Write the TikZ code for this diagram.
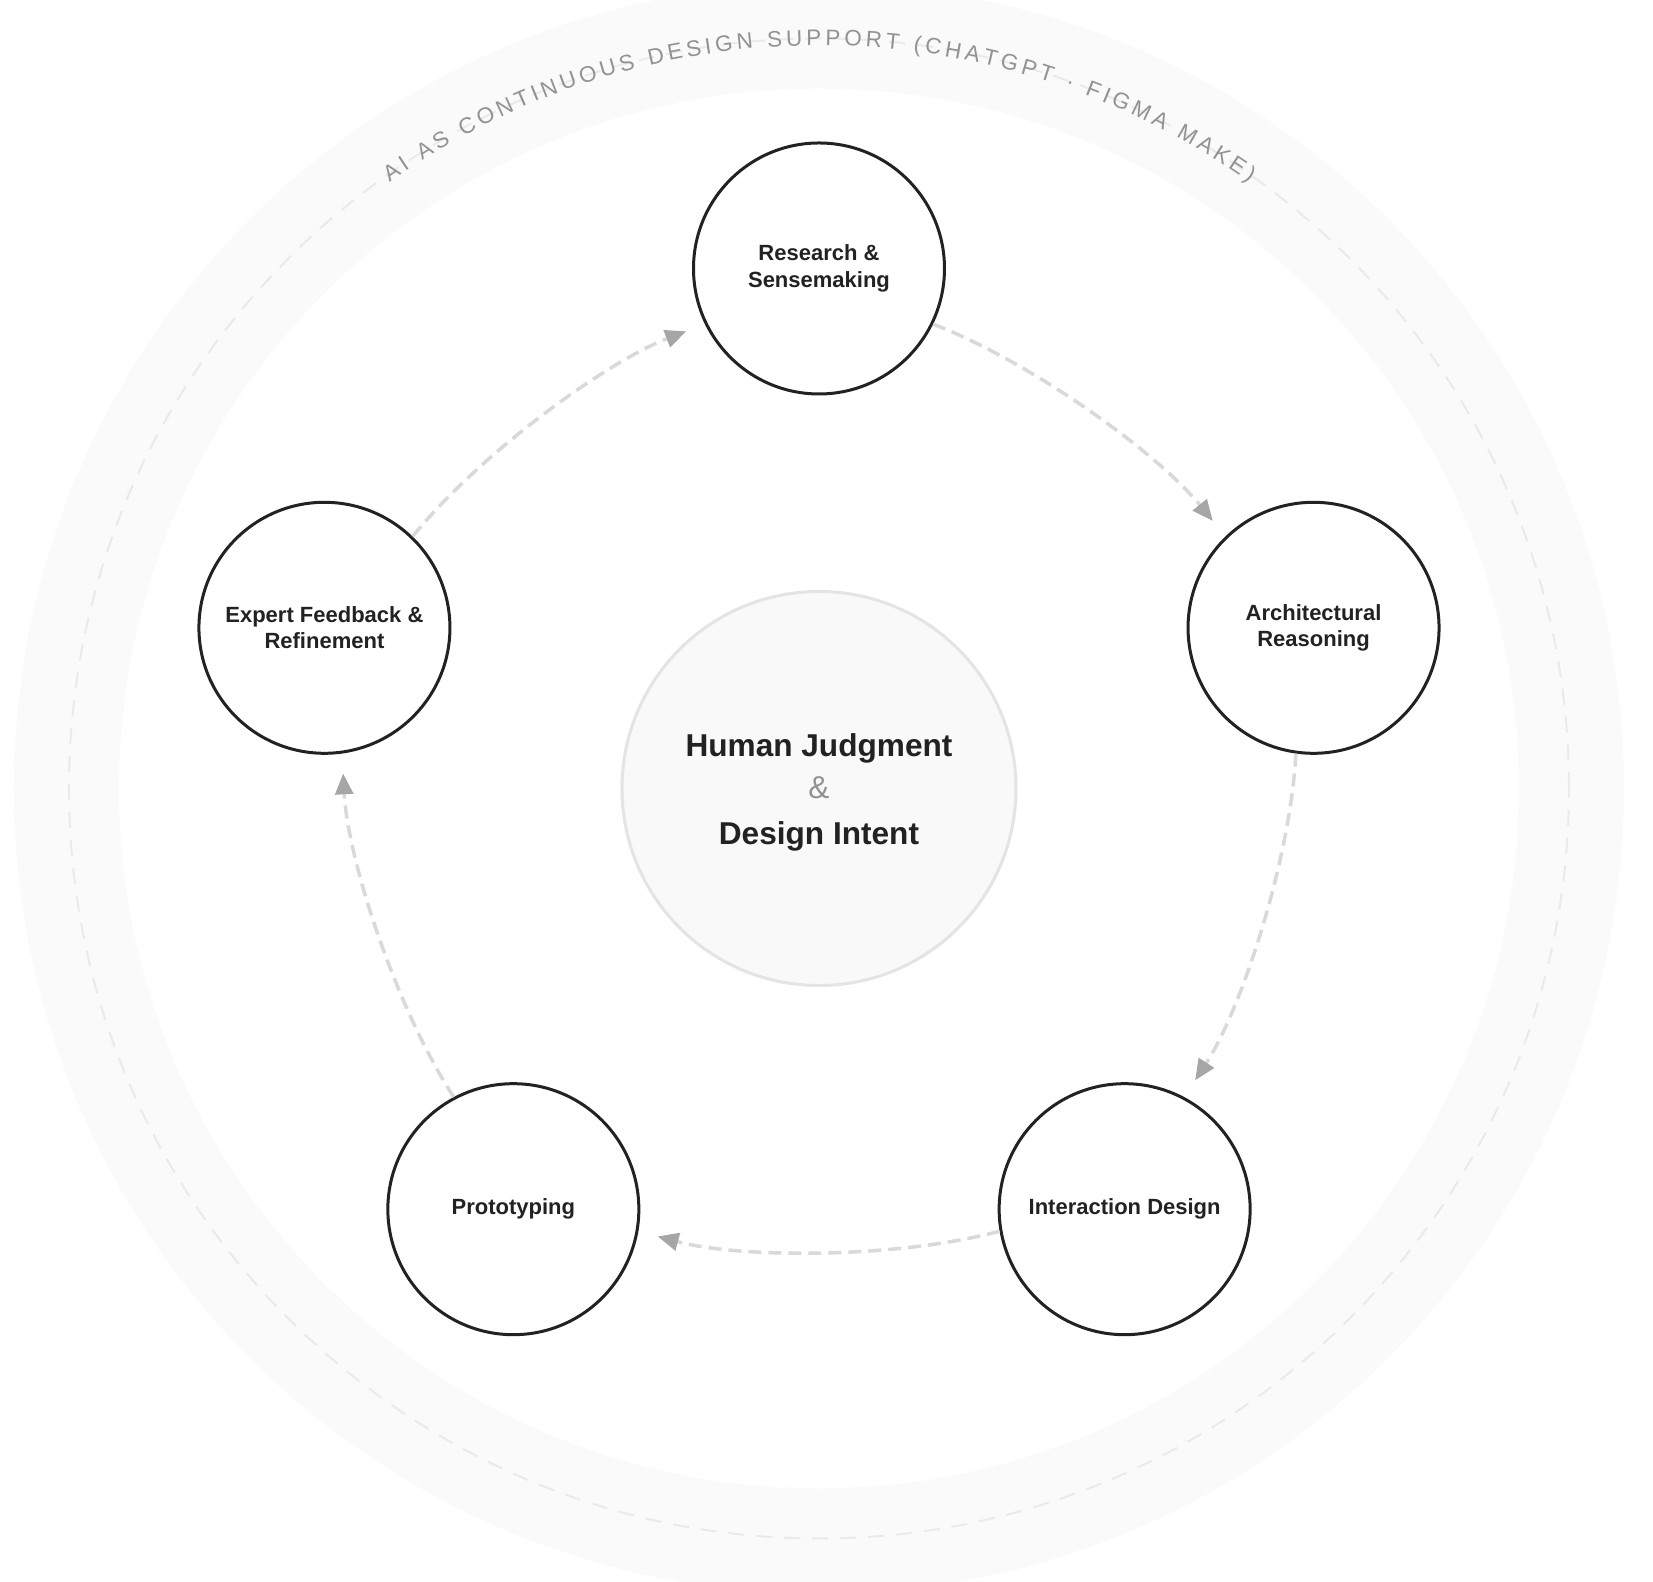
\documentclass[tikz,border=0pt]{standalone}
\usepackage{fontspec}
\setmainfont{Liberation Sans}
\usetikzlibrary{arrows.meta,decorations.text}

\definecolor{ink}{HTML}{222222}
\definecolor{bandfill}{HTML}{FAFAFA}
\definecolor{ringline}{HTML}{EAEAEA}
\definecolor{hubfill}{HTML}{F9F9F9}
\definecolor{hubline}{HTML}{E4E4E4}
\definecolor{flowline}{HTML}{D9D9D9}
\definecolor{flowtip}{HTML}{A6A6A6}
\definecolor{softtext}{HTML}{929292}

\begin{document}
\begin{tikzpicture}[
    stage/.style={circle, draw=ink, line width=1.5pt, fill=white,
                  minimum size=125.5pt, inner sep=0pt, text=ink, align=center,
                  font=\fontsize{11}{13.3}\selectfont\bfseries},
    hub/.style={circle, draw=hubline, fill=hubfill, line width=1.5pt,
                minimum size=197pt, inner sep=0pt, text=ink, align=center,
                font=\fontsize{15.8}{22}\selectfont\bfseries},
    flow/.style={draw=flowline, line width=1.75pt, dash pattern=on 6.5pt off 3.5pt,
                 -{Triangle[length=10.4pt, width=8.9pt, color=flowtip]},
                 shorten >=10pt},
    ring/.style={draw=ringline, line width=1pt, dash pattern=on 8pt off 6pt}
]
    % Page
    \useasboundingbox (-409.5pt,-396.75pt) rectangle (417pt,394.25pt);
    \clip (-409.5pt,-396.75pt) rectangle (417pt,394.25pt);
    \fill[white] (-409.5pt,-396.75pt) rectangle (417pt,394.25pt);

    % Outer AI band
    \fill[bandfill, even odd rule] (0,0) circle (402.5pt) (0,0) circle (350pt);
    \draw[ring] (0,0) circle (375pt);
    \path[decorate, decoration={text along path, text align=fit to path,
            text={|\fontsize{11.2}{13}\selectfont\color{softtext}|AI AS CONTINUOUS DESIGN SUPPORT (CHATGPT · FIGMA MAKE)}}]
        (125.3:371.5pt) arc[start angle=125.3, end angle=54.7, radius=371.5pt];

    % Centre
    \node[hub] (core) at (0,0) {\rule{0pt}{15.7pt}Human Judgment\\[-1pt]
        {\mdseries\color{softtext}\&}\\[1pt]Design Intent};

    % Stages
    \node[stage] (research) at (90:260pt)   {Research \&\\Sensemaking};
    \node[stage] (arch)     at (18:260pt)   {Architectural\\Reasoning};
    \node[stage] (interact) at (-54:260pt)  {Interaction Design};
    \node[stage] (proto)    at (-126:260pt) {Prototyping};
    \node[stage] (feedback) at (162:260pt)  {Expert Feedback \&\\Refinement};

    % Cycle arrows
    \foreach \from/\to/\ang in {research/arch/90, arch/interact/18,
        interact/proto/-54, proto/feedback/-126, feedback/research/162}{
        \pgfmathtruncatemacro\sa{\ang-116}
        \pgfmathtruncatemacro\oa{\ang-111}
        \pgfmathtruncatemacro\ia{\ang-72+111}
        \pgfmathtruncatemacro\ea{\ang-72+116}
        \draw[flow] (\from.\sa) to[out=\oa, in=\ia, looseness=0.75] (\to.\ea);
    }
\end{tikzpicture}
\end{document}
